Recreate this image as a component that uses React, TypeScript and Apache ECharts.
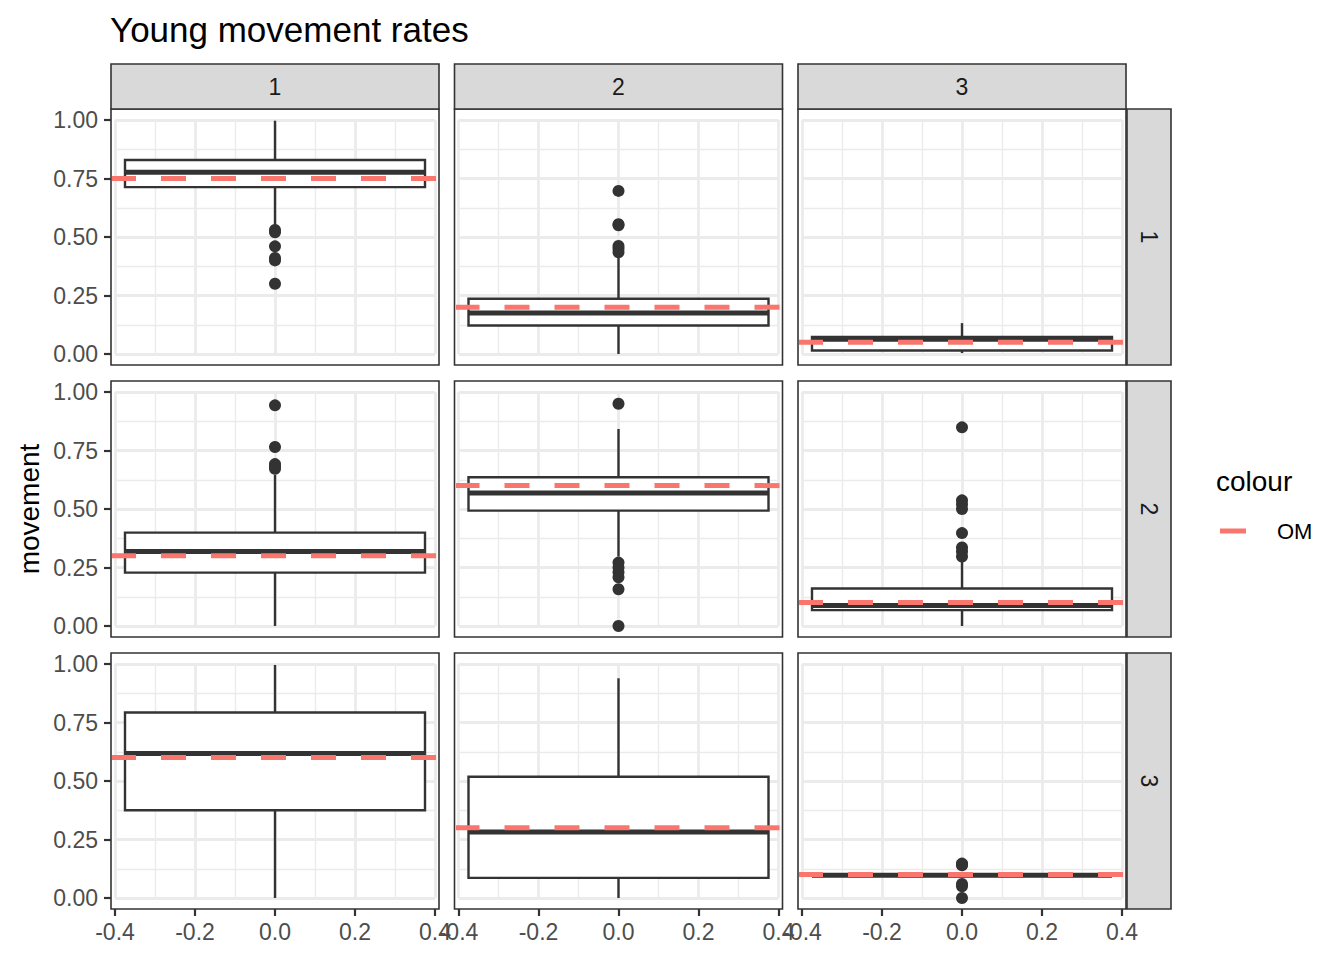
import React, { useEffect, useRef } from "react";
import * as echarts from "echarts";

// ---- data (row-major order: row 1 col 1, row 1 col 2, ..., row 3 col 3) ----
const rowLabels = ["1", "2", "3"];
const colLabels = ["1", "2", "3"];
const xTickValues = [-0.4, -0.2, 0, 0.2, 0.4];
const yTickValues = [0, 0.25, 0.5, 0.75, 1];

const boxLow = [0.545, 0.0, 0.004, 0.0, 0.297, 0.0, 0.0, 0.0, 0.095];
const boxQ1 = [0.713, 0.122, 0.015, 0.228, 0.493, 0.068, 0.375, 0.086, 0.095];
const boxMedian = [0.777, 0.175, 0.063, 0.318, 0.568, 0.088, 0.618, 0.282, 0.097];
const boxQ3 = [0.829, 0.236, 0.073, 0.399, 0.636, 0.16, 0.793, 0.518, 0.099];
const boxHigh = [0.997, 0.41, 0.132, 0.646, 0.842, 0.275, 0.996, 0.939, 0.099];

const outliers11 = [0.53, 0.52, 0.46, 0.41, 0.4, 0.3];
const outliers12 = [0.697, 0.555, 0.55, 0.462, 0.45, 0.435];
const outliers13: number[] = [];
const outliers21 = [0.943, 0.765, 0.692, 0.682, 0.672];
const outliers22 = [0.95, 0.271, 0.25, 0.23, 0.208, 0.157, 0.0];
const outliers23 = [0.849, 0.537, 0.52, 0.5, 0.397, 0.336, 0.318, 0.297];
const outliers31: number[] = [];
const outliers32: number[] = [];
const outliers33 = [0.147, 0.143, 0.14, 0.06, 0.05, 0.0];
const outlierSets = [
  outliers11, outliers12, outliers13,
  outliers21, outliers22, outliers23,
  outliers31, outliers32, outliers33,
];

const omValues = [0.75, 0.2, 0.05, 0.3, 0.6, 0.1, 0.6, 0.3, 0.1];

// ---- layout ----
const FONT = "'Liberation Sans', Arial, Helvetica, sans-serif";
const colLeft = [111, 454.5, 798];
const rowTop = [109, 381, 653];
const PANEL_W = 328;
const PANEL_H = 256;
const GRID_INSET_X = 4;
const GRID_W = 320;
const GRID_INSET_TOP = 11;
const GRID_H = 234;
const BOX_HALF = 0.375;
const PANEL_X_EXTENT = 0.41;
const STRIP_TOP = 64;
const STRIP_H = 45;
const STRIP_RIGHT_X = 1127;
const STRIP_RIGHT_W = 44;

const DARK = "#333333";
const OM_COLOR = "#F8766D";
const GRID_COLOR = "#EBEBEB";

function buildOption() {
  const grids: any[] = [];
  const xAxes: any[] = [];
  const yAxes: any[] = [];
  const series: any[] = [];
  const graphics: any[] = [];

  for (let r = 0; r < 3; r++) {
    for (let c = 0; c < 3; c++) {
      const i = r * 3 + c;
      const isLeft = c === 0;
      const isBottom = r === 2;
      grids.push({
        left: colLeft[c] + GRID_INSET_X,
        top: rowTop[r] + GRID_INSET_TOP,
        width: GRID_W,
        height: GRID_H,
        containLabel: false,
      });
      xAxes.push({
        type: "value",
        gridIndex: i,
        position: "bottom",
        min: xTickValues[0],
        max: xTickValues[xTickValues.length - 1],
        interval: 0.2,
        offset: PANEL_H - GRID_INSET_TOP - GRID_H,
        axisLine: { show: false, onZero: false },
        axisTick: { show: isBottom, length: 7, lineStyle: { color: DARK, width: 2.2 } },
        axisLabel: {
          show: isBottom,
          formatter: (v: number) => v.toFixed(1),
          color: "#4D4D4D",
          fontSize: 23,
          fontFamily: FONT,
          margin: 11,
          showMinLabel: true,
          showMaxLabel: true,
        },
        splitLine: { show: true, lineStyle: { color: GRID_COLOR, width: 2.8 } },
        minorTick: { show: false, splitNumber: 2 },
        minorSplitLine: { show: true, lineStyle: { color: GRID_COLOR, width: 1.4 } },
      });
      yAxes.push({
        type: "value",
        gridIndex: i,
        position: "left",
        min: yTickValues[0],
        max: yTickValues[yTickValues.length - 1],
        interval: 0.25,
        offset: GRID_INSET_X,
        axisLine: { show: false, onZero: false },
        axisTick: { show: isLeft, length: 7, lineStyle: { color: DARK, width: 2.2 } },
        axisLabel: {
          show: isLeft,
          formatter: (v: number) => v.toFixed(2),
          color: "#4D4D4D",
          fontSize: 23,
          fontFamily: FONT,
          margin: 13,
        },
        splitLine: { show: true, lineStyle: { color: GRID_COLOR, width: 2.8 } },
        minorTick: { show: false, splitNumber: 2 },
        minorSplitLine: { show: true, lineStyle: { color: GRID_COLOR, width: 1.4 } },
      });

      series.push({
        type: "custom",
        xAxisIndex: i,
        yAxisIndex: i,
        z: 3,
        clip: false,
        silent: true,
        encode: { x: 0, y: [1, 2, 3, 4, 5] },
        data: [[0, boxLow[i], boxQ1[i], boxMedian[i], boxQ3[i], boxHigh[i]]],
        renderItem: (params: any, api: any) => {
          const x = api.value(0);
          const lo = api.value(1);
          const q1 = api.value(2);
          const med = api.value(3);
          const q3 = api.value(4);
          const hi = api.value(5);
          const tl = api.coord([x - BOX_HALF, q3]);
          const br = api.coord([x + BOX_HALF, q1]);
          const mL = api.coord([x - BOX_HALF, med]);
          const mR = api.coord([x + BOX_HALF, med]);
          const pHi = api.coord([x, hi]);
          const pLo = api.coord([x, lo]);
          const pQ3 = api.coord([x, q3]);
          const pQ1 = api.coord([x, q1]);
          return {
            type: "group",
            children: [
              {
                type: "line",
                shape: { x1: pHi[0], y1: pHi[1], x2: pQ3[0], y2: pQ3[1] },
                style: { stroke: DARK, lineWidth: 2.4 },
              },
              {
                type: "line",
                shape: { x1: pQ1[0], y1: pQ1[1], x2: pLo[0], y2: pLo[1] },
                style: { stroke: DARK, lineWidth: 2.4 },
              },
              {
                type: "rect",
                shape: { x: tl[0], y: tl[1], width: br[0] - tl[0], height: br[1] - tl[1] },
                style: { fill: "#FFFFFF", stroke: DARK, lineWidth: 2.4 },
              },
              {
                type: "line",
                shape: { x1: mL[0], y1: mL[1], x2: mR[0], y2: mR[1] },
                style: { stroke: DARK, lineWidth: 5 },
              },
            ],
          };
        },
      });

      series.push({
        type: "scatter",
        xAxisIndex: i,
        yAxisIndex: i,
        z: 4,
        clip: false,
        symbol: "circle",
        symbolSize: 12,
        itemStyle: { color: DARK, opacity: 1 },
        data: outlierSets[i].map((v) => [0, v]),
        silent: true,
      });

      series.push({
        type: "line",
        name: "OM",
        xAxisIndex: i,
        yAxisIndex: i,
        z: 5,
        clip: false,
        symbol: "none",
        silent: true,
        lineStyle: { color: OM_COLOR, width: 5, type: [25, 25], cap: "butt", opacity: 1 },
        data: [
          [-PANEL_X_EXTENT, omValues[i]],
          [PANEL_X_EXTENT, omValues[i]],
        ],
      });

      // panel border
      graphics.push({
        type: "rect",
        z: 100,
        silent: true,
        shape: { x: colLeft[c], y: rowTop[r], width: PANEL_W, height: PANEL_H },
        style: { fill: "none", stroke: DARK, lineWidth: 1.6 },
      });
    }
  }

  // top strips
  for (let c = 0; c < 3; c++) {
    graphics.push({
      type: "rect",
      z: 100,
      silent: true,
      shape: { x: colLeft[c], y: STRIP_TOP, width: PANEL_W, height: STRIP_H },
      style: { fill: "#D9D9D9", stroke: DARK, lineWidth: 1.6 },
    });
    graphics.push({
      type: "text",
      z: 101,
      silent: true,
      x: colLeft[c] + PANEL_W / 2,
      y: STRIP_TOP + STRIP_H / 2,
      style: {
        text: colLabels[c],
        fill: "#1A1A1A",
        fontSize: 23,
        fontFamily: FONT,
        align: "center",
        verticalAlign: "middle",
      },
    });
  }
  // right strips
  for (let r = 0; r < 3; r++) {
    graphics.push({
      type: "rect",
      z: 100,
      silent: true,
      shape: { x: STRIP_RIGHT_X, y: rowTop[r], width: STRIP_RIGHT_W, height: PANEL_H },
      style: { fill: "#D9D9D9", stroke: DARK, lineWidth: 1.6 },
    });
    graphics.push({
      type: "text",
      z: 101,
      silent: true,
      x: STRIP_RIGHT_X + STRIP_RIGHT_W / 2,
      y: rowTop[r] + PANEL_H / 2,
      rotation: -Math.PI / 2,
      style: {
        text: rowLabels[r],
        fill: "#1A1A1A",
        fontSize: 23,
        fontFamily: FONT,
        align: "center",
        verticalAlign: "middle",
      },
    });
  }

  // title
  graphics.push({
    type: "text",
    z: 101,
    silent: true,
    x: 110,
    y: 29,
    style: {
      text: "Young movement rates",
      fill: "#000000",
      fontSize: 35,
      fontFamily: FONT,
      align: "left",
      verticalAlign: "middle",
    },
  });
  // y axis title
  graphics.push({
    type: "text",
    z: 101,
    silent: true,
    x: 29,
    y: (rowTop[0] + rowTop[2] + PANEL_H) / 2,
    rotation: Math.PI / 2,
    style: {
      text: "movement",
      fill: "#000000",
      fontSize: 28,
      fontFamily: FONT,
      align: "center",
      verticalAlign: "middle",
    },
  });
  // legend
  graphics.push({
    type: "text",
    z: 101,
    silent: true,
    x: 1216,
    y: 481,
    style: {
      text: "colour",
      fill: "#000000",
      fontSize: 28,
      fontFamily: FONT,
      align: "left",
      verticalAlign: "middle",
    },
  });
  graphics.push({
    type: "line",
    z: 101,
    silent: true,
    shape: { x1: 1220, y1: 531, x2: 1246, y2: 531 },
    style: { stroke: OM_COLOR, lineWidth: 5 },
  });
  graphics.push({
    type: "text",
    z: 101,
    silent: true,
    x: 1277,
    y: 531,
    style: {
      text: "OM",
      fill: "#000000",
      fontSize: 22,
      fontFamily: FONT,
      align: "left",
      verticalAlign: "middle",
    },
  });

  return {
    animation: false,
    backgroundColor: "#FFFFFF",
    grid: grids,
    xAxis: xAxes,
    yAxis: yAxes,
    series,
    graphic: graphics,
  };
}

export default function App() {
  const ref = useRef<HTMLDivElement>(null);
  useEffect(() => {
    if (!ref.current) return;
    const chart = echarts.init(ref.current, undefined, { renderer: "svg" });
    chart.setOption(buildOption() as any);
    return () => chart.dispose();
  }, []);
  return (
    <div
      ref={ref}
      style={{ position: "absolute", left: 0, top: 0, width: 1344, height: 960 }}
    />
  );
}
